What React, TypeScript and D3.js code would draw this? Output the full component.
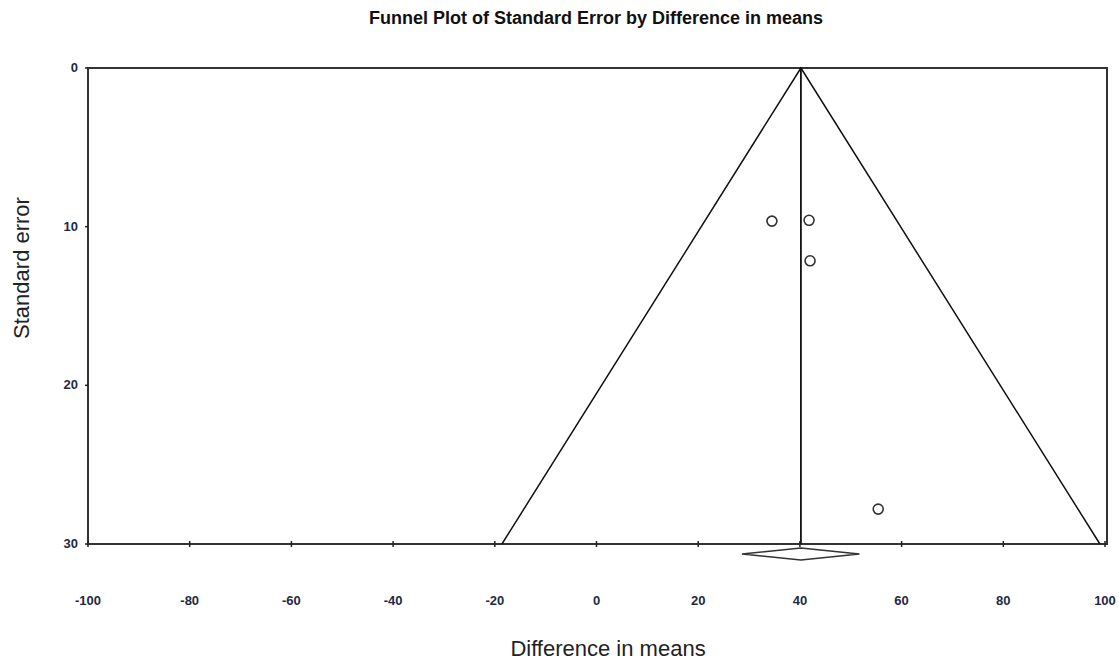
import React from "react";
import * as d3 from "d3";

const xTicks = [-100, -80, -60, -40, -20, 0, 20, 40, 60, 80, 100];
const yTicks = [0, 10, 20, 30];
const studyDiff = [34.5, 41.8, 42.0, 55.4];
const studySE = [9.65, 9.6, 12.15, 27.8];
const pooledEffect = 40.2;
const pooledLow = 28.6;
const pooledHigh = 51.7;
const maxSE = 30;
const z = 1.96;

const W = 1119;
const H = 662;
const left = 88;
const right = 1105;
const top = 68;
const bottom = 544;

export default function App() {
  const x = d3.scaleLinear().domain([-100, 100]).range([left, right]);
  const y = d3.scaleLinear().domain([0, maxSE]).range([top, bottom]);
  const funnel = d3.line<[number, number]>().x((d) => x(d[0])).y((d) => y(d[1]));
  const funnelPts: [number, number][] = [
    [pooledEffect - z * maxSE, maxSE],
    [pooledEffect, 0],
    [pooledEffect + z * maxSE, maxSE],
  ];
  const dy = 554;
  const diamond = `M${x(pooledLow)},${dy} L${x(pooledEffect)},${dy - 6} L${x(pooledHigh)},${dy} L${x(pooledEffect)},${dy + 6} Z`;
  const tickColor = "#1e2a44";
  return (
    <svg width={W} height={H} style={{ position: "absolute", left: 0, top: 0, background: "#fff" }}>
      <text x={596} y={24} textAnchor="middle" fontFamily="Liberation Sans, Arial, sans-serif" fontWeight="bold" fontSize={18} fill="#111">
        Funnel Plot of Standard Error by Difference in means
      </text>
      <rect x={left} y={top} width={1107 - left} height={bottom - top} fill="none" stroke="#333" strokeWidth={2} />
      <path d={funnel(funnelPts) || ""} fill="none" stroke="#111" strokeWidth={1.5} />
      <line x1={x(pooledEffect)} x2={x(pooledEffect)} y1={y(0)} y2={y(maxSE)} stroke="#111" strokeWidth={1.8} />
      {xTicks.map((t) => (
        <g key={"x" + t}>
          <line x1={x(t)} x2={x(t)} y1={bottom - 3} y2={bottom + 3} stroke="#222" strokeWidth={1.5} />
          <text x={x(t)} y={605} textAnchor="middle" fontFamily="Liberation Sans, Arial, sans-serif" fontWeight="bold" fontSize={13} fill={tickColor}>
            {t}
          </text>
        </g>
      ))}
      {yTicks.map((t) => (
        <g key={"y" + t}>
          <line x1={left - 3} x2={left} y1={y(t)} y2={y(t)} stroke="#222" strokeWidth={1.5} />
          <text x={78} y={y(t) + 4} textAnchor="end" fontFamily="Liberation Sans, Arial, sans-serif" fontWeight="bold" fontSize={13} fill={tickColor}>
            {t}
          </text>
        </g>
      ))}
      {studyDiff.map((d, i) => (
        <circle key={i} cx={x(d)} cy={y(studySE[i])} r={5} fill="#fff" stroke="#333" strokeWidth={1.6} />
      ))}
      <path d={diamond} fill="#fff" stroke="#333" strokeWidth={1.5} />
      <text x={608} y={656} textAnchor="middle" fontFamily="Liberation Sans, Arial, sans-serif" fontSize={22} fill="#222">
        Difference in means
      </text>
      <text transform={`translate(29,268) rotate(-90)`} textAnchor="middle" fontFamily="Liberation Sans, Arial, sans-serif" fontSize={22} fill="#222">
        Standard error
      </text>
    </svg>
  );
}
